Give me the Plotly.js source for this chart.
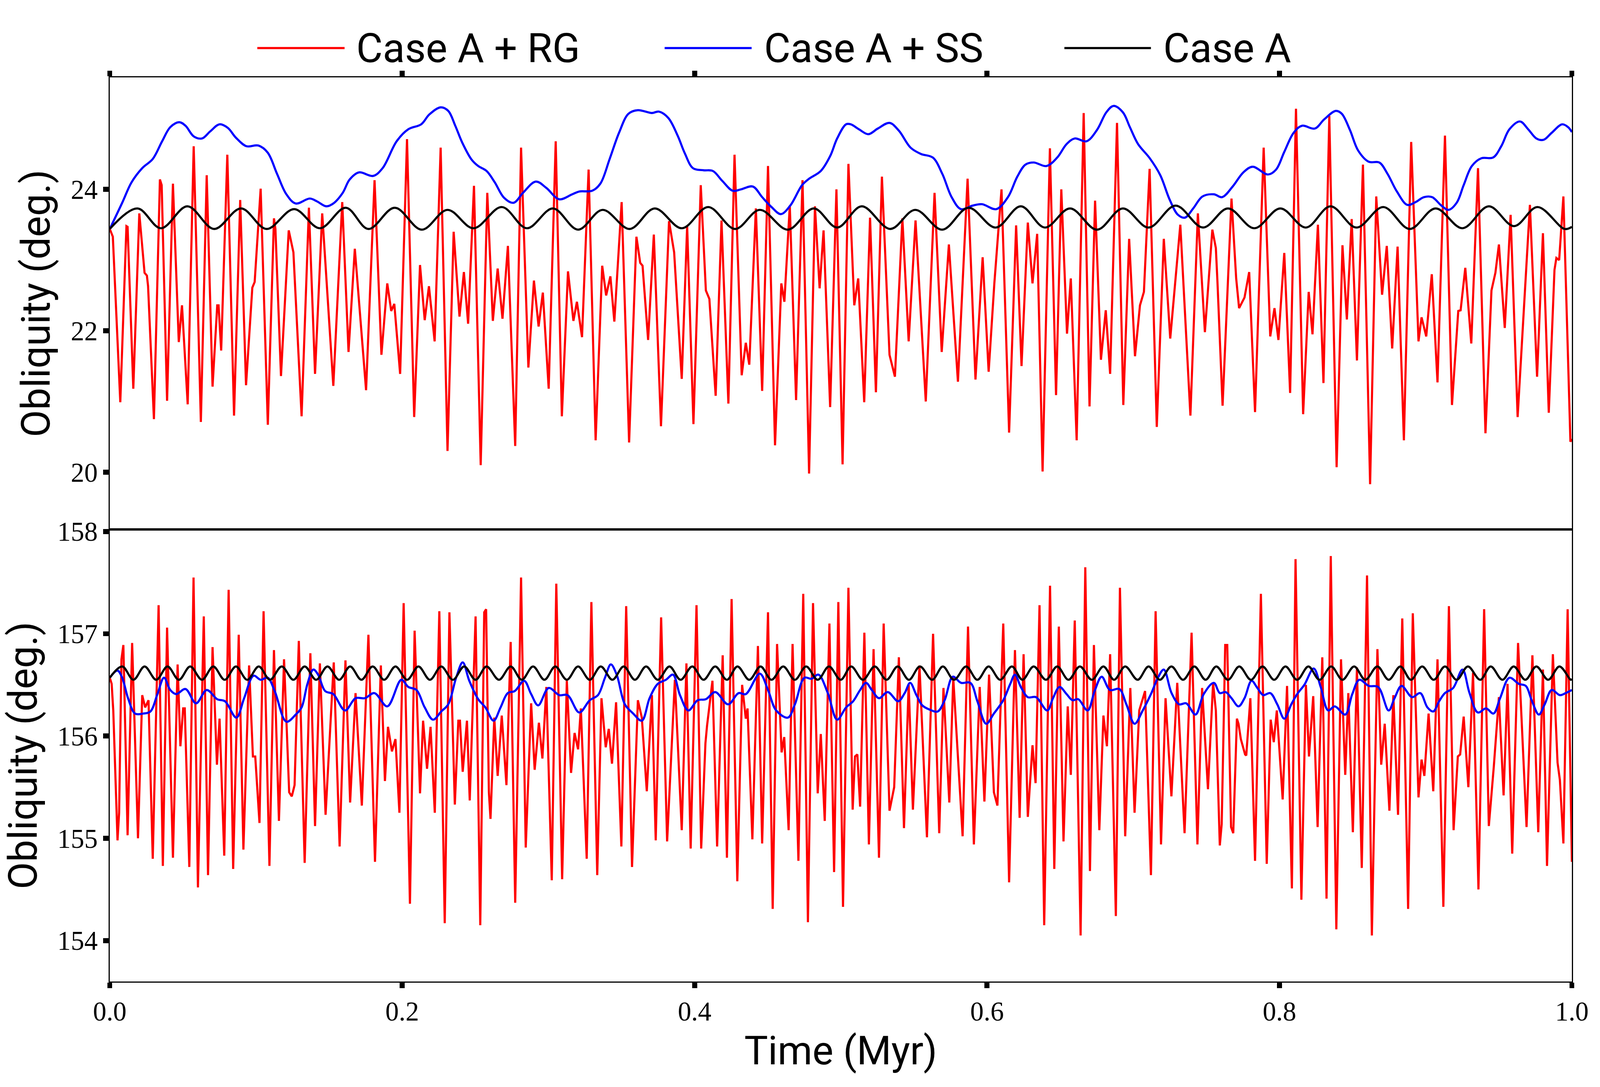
<!DOCTYPE html>
<html>
<head>
<meta charset="utf-8">
<title>Obliquity</title>
<script src="https://cdn.plot.ly/plotly-3.0.1.min.js"></script>
<style>
  html, body { margin: 0; padding: 0; background: #fff; overflow: hidden; }
</style>
</head>
<body>
<div id="chart-container"></div>
<script>
// ---- data (time in Myr, obliquity in degrees) ----

// top panel, Case A + RG
const rgTopT = [0, .0021, .0072, .0114, .0122, .0161, .0202, .0238, .0254, .0262, .0302, .0343, .0355, .0392, .0432, .0472, .0494, .0533, .0574, .0623, .0663, .0703, .0735, .0744, .0762, .0804, .0850, .0892, .0932, .0975, .0991, .1032, .1081, .1123, .1133, .1171, .1224, .1256, .1312, .1362, .1404, .1453, .1529, .1590, .1633, .1676, .1753, .1811, .1858, .1898, .1925, .1946, .1986, .2033, .2082, .2122, .2154, .2183, .2222, .2263, .2310, .2352, .2392, .2422, .2451, .2491,
  .2537, .2582, .2620, .2653, .2686, .2723, .2773, .2813, .2863, .2901, .2933, .2962, .3002, .3050, .3092, .3134, .3171, .3195, .3230, .3275, .3323, .3368, .3395, .3424, .3451, .3501, .3552, .3602, .3628, .3644, .3682, .3721, .3770, .3825, .3860, .3912, .3949, .3992, .4042, .4077, .4101, .4144, .4184, .4231, .4273, .4322, .4350, .4374, .4419, .4462, .4502, .4550, .4593, .4614, .4651, .4694, .4738, .4783, .4823, .4855, .4882, .4927, .4970, .5012,
  .5052, .5092, .5119, .5160, .5200, .5240, .5281, .5333, .5370, .5421, .5464, .5511, .5581, .5641, .5690, .5739, .5801, .5867, .5921, .5970, .6011, .6050, .6099, .6151, .6199, .6236, .6279, .6311, .6343, .6380, .6430, .6472, .6508, .6547, .6573, .6613, .6661, .6701, .6739, .6779, .6812, .6842, .6889, .6932, .6972, .7012, .7046, .7073, .7112, .7161, .7209, .7253, .7322, .7391, .7442, .7490, .7541,
  .7565, .7576, .7611, .7672, .7704, .7724, .7761, .7793, .7833, .7892, .7937, .7966, .7993, .8033, .8073, .8113, .8162, .8200, .8226, .8263, .8301, .8341, .8391, .8431, .8461, .8494, .8530, .8571, .8620, .8662, .8702, .8734, .8771, .8808, .8851, .8901, .8951, .8972, .9004, .9042, .9081, .9132, .9180, .9223, .9239, .9271, .9312, .9358, .9409, .9450, .9477, .9501, .9541, .9581, .9629, .9713, .9762, .9802, .9842, .9881, .9894, .9913, .9942, .9990, 1.0];
const rgTopY = [23.44, 23.33, 20.99, 23.48, 23.47, 21.18, 23.66, 22.82, 22.78, 22.63, 20.75, 24.14, 24.06, 21.01, 24.08, 21.84, 22.36, 20.96, 24.61, 20.71, 24.20, 21.21, 22.36, 22.36, 21.72, 24.49, 20.80, 23.85, 21.23, 22.61, 22.69, 24.01, 20.67, 23.59, 23.44, 21.36, 23.42, 23.11, 20.79, 23.74, 21.39, 23.66, 21.22, 23.82, 21.70, 23.16, 21.16, 24.13, 21.66, 22.67, 22.28, 22.38, 21.39, 24.71, 20.78, 22.93, 22.15, 22.63, 21.85, 24.59, 20.30, 23.40, 22.20, 22.83, 22.10, 24.05,
  20.10, 23.95, 22.14, 22.88, 22.17, 23.20, 20.37, 24.59, 21.48, 22.71, 22.06, 22.54, 21.18, 24.68, 20.79, 22.84, 22.14, 22.41, 21.91, 24.28, 20.45, 22.92, 22.50, 22.77, 22.13, 23.82, 20.42, 23.33, 22.96, 22.92, 21.87, 23.36, 20.65, 23.55, 23.11, 21.32, 23.48, 20.68, 24.06, 22.57, 22.45, 21.08, 23.56, 20.97, 24.49, 21.37, 21.83, 21.52, 23.73, 21.15, 24.33, 20.38, 22.67, 22.41, 23.77, 21.02, 24.13, 19.98, 23.76, 22.60, 23.42, 20.92, 24.00, 20.11,
  24.36, 22.36, 22.74, 20.99, 23.60, 21.13, 24.18, 21.66, 21.35, 23.59, 21.85, 23.56, 21.00, 23.95, 21.70, 23.22, 21.28, 24.15, 21.31, 23.04, 21.42, 22.67, 24.00, 20.56, 23.49, 21.50, 23.53, 22.67, 23.37, 20.01, 24.58, 21.09, 24.00, 21.96, 22.74, 20.45, 25.08, 20.93, 23.84, 21.59, 22.29, 21.39, 24.94, 20.95, 23.30, 21.64, 22.36, 22.55, 24.29, 20.64, 23.30, 21.89, 23.50, 20.80, 23.66, 21.98, 23.43,
  23.17, 22.69, 20.94, 23.87, 22.74, 22.32, 22.47, 22.83, 20.85, 24.59, 21.92, 22.32, 21.87, 23.10, 21.12, 25.14, 20.82, 22.55, 21.95, 23.50, 21.26, 25.04, 20.07, 23.21, 22.16, 23.58, 21.58, 24.35, 19.83, 23.90, 22.51, 23.20, 21.75, 23.19, 20.45, 24.67, 21.85, 22.19, 21.92, 22.80, 21.27, 24.76, 20.95, 22.28, 22.29, 22.89, 21.82, 24.30, 20.55, 22.57, 22.82, 23.22, 22.04, 23.64, 20.78, 23.78, 21.35, 23.38, 20.84, 22.86, 23.03, 23.00, 23.90, 20.43, 20.47];

// top panel, Case A + SS
const ssTopT = [0, .0085, .0149, .0222, .0294, .0358, .0414, .0475, .0518, .0574, .0631, .0687, .0751, .0807, .0863, .0935, .1016, .1080, .1144, .1208, .1272, .1368, .1417, .1481, .1529, .1593, .1641, .1705, .1801, .1866, .1962, .2042, .2130, .2186, .2263, .2315, .2363, .2411, .2475, .2520,
  .2577, .2633, .2697, .2762, .2826, .2914, .2986, .3074, .3163, .3211, .3299, .3355, .3419, .3483, .3548, .3612, .3708, .3756, .3820, .3884, .3933, .3989, .4061, .4125, .4189, .4261, .4317, .4398, .4462, .4526, .4590, .4654, .4735, .4783, .4863, .4927, .4975, .5036,
  .5068, .5124, .5188, .5253, .5333, .5397, .5477, .5549, .5629, .5694, .5758, .5822, .5902, .5966, .6063, .6143, .6207, .6263, .6319, .6407, .6480, .6544, .6600, .6680, .6752, .6816, .6865, .6929, .6977, .7033, .7113, .7185, .7250, .7306, .7354, .7410, .7474, .7551,
  .7608, .7680, .7753, .7817, .7921, .7977, .8033, .8097, .8154, .8242, .8306, .8386, .8426, .8482, .8538, .8611, .8683, .8739, .8803, .8875, .8931, .8988, .9044, .9108, .9156, .9212, .9260, .9316, .9381, .9461, .9517, .9573, .9645, .9701, .9757, .9806, .9862, .9934, .9974, 1.0];
const ssTopY = [23.44, 23.81, 24.10, 24.30, 24.43, 24.68, 24.88, 24.95, 24.90, 24.75, 24.72, 24.82, 24.92, 24.87, 24.73, 24.61, 24.62, 24.52, 24.22, 23.93, 23.80, 23.87, 23.83, 23.76, 23.80, 23.95, 24.14, 24.24, 24.19, 24.30, 24.68, 24.85, 24.92, 25.06, 25.16, 25.11, 24.90, 24.66, 24.42, 24.33,
  24.26, 24.10, 23.88, 23.81, 23.95, 24.11, 24.02, 23.86, 23.93, 23.97, 23.98, 24.08, 24.43, 24.80, 25.07, 25.12, 25.08, 25.10, 25.01, 24.76, 24.51, 24.30, 24.27, 24.26, 24.12, 23.98, 24.00, 24.04, 23.89, 23.75, 23.65, 23.77, 24.06, 24.15, 24.26, 24.47, 24.72, 24.92,
  24.92, 24.85, 24.78, 24.86, 24.94, 24.83, 24.59, 24.50, 24.45, 24.22, 23.89, 23.72, 23.77, 23.79, 23.72, 23.89, 24.18, 24.35, 24.38, 24.33, 24.45, 24.64, 24.72, 24.68, 24.84, 25.09, 25.18, 25.09, 24.88, 24.64, 24.44, 24.20, 23.85, 23.64, 23.60, 23.73, 23.90, 23.93,
  23.89, 24.04, 24.24, 24.32, 24.21, 24.28, 24.53, 24.80, 24.90, 24.86, 24.99, 25.11, 25.07, 24.84, 24.55, 24.39, 24.38, 24.22, 23.97, 23.78, 23.82, 23.89, 23.89, 23.77, 23.71, 23.81, 24.06, 24.33, 24.44, 24.45, 24.61, 24.85, 24.96, 24.85, 24.72, 24.70, 24.80, 24.92, 24.88, 24.81];

// top panel, Case A (extrema of the slow oscillation)
const aTopT = [0, .0189, .0350, .0531, .0714, .0898, .1072, .1261, .1437, .1614, .1769, .1949, .2134, .2310, .2488, .2681, .2853, .3031, .3203, .3371, .3556, .3727, .3913, .4093, .4277, .4446, .4638, .4815, .4975, .5143, .5338, .5509, .5694, .5873, .6059, .6231, .6396, .6568, .6752, .6929, .7105, .7290, .7477, .7648, .7828, .8006, .8181, .8349, .8527, .8710, .8891, .9068, .9252, .9432, .9605, .9765, .9950, 1.0];
const aTopY = [23.44, 23.73, 23.45, 23.76, 23.44, 23.73, 23.44, 23.72, 23.45, 23.74, 23.44, 23.74, 23.43, 23.71, 23.45, 23.75, 23.45, 23.73, 23.43, 23.71, 23.44, 23.73, 23.45, 23.75, 23.44, 23.71, 23.43, 23.73, 23.46, 23.76, 23.44, 23.71, 23.43, 23.74, 23.46, 23.76, 23.46, 23.73, 23.43, 23.73, 23.46, 23.77, 23.46, 23.73, 23.45, 23.73, 23.46, 23.76, 23.46, 23.75, 23.44, 23.73, 23.45, 23.76, 23.48, 23.75, 23.44, 23.47];

// bottom panel, Case A + RG
const rgBotT = [0, .0013, .0024, .0053, .0064, .0080, .0093, .0122, .0153, .0193, .0222, .0242, .0265, .0294, .0334, .0363, .0392, .0432, .0464, .0483, .0502, .0513, .0544, .0573, .0603, .0643, .0672, .0703, .0733, .0751, .0783, .0813, .0844, .0882, .0914, .0953, .0979, .0995, .1024, .1052, .1092, .1123, .1157, .1192, .1227, .1245, .1264, .1293, .1333, .1372, .1404, .1437, .1476, .1532, .1572, .1612, .1644, .1681, .1724, .1769, .1814, .1854, .1882, .1903, .1930, .1954, .1981, .2010, .2053, .2085, .2122, .2143, .2170, .2194, .2223, .2254, .2291, .2323, .2360, .2384, .2395, .2414, .2443, .2462, .2502,
  .2534, .2561, .2574, .2593, .2604, .2630, .2653, .2681, .2713, .2742, .2773, .2813, .2845, .2882, .2906, .2935, .2959, .2986, .3023, .3054, .3094, .3126, .3155, .3179, .3203, .3222, .3262, .3294, .3334, .3363, .3392, .3413, .3435, .3463, .3499, .3532, .3572, .3612, .3639, .3673, .3708, .3734, .3771, .3812, .3865, .3912, .3944, .3973, .4013, .4045, .4074, .4085, .4122, .4154, .4192, .4221, .4253, .4292, .4325, .4350, .4362, .4395, .4433, .4462, .4502, .4534, .4564, .4595, .4613, .4643, .4670, .4710, .4743, .4775, .4810, .4842, .4863, .4890, .4922, .4954, .4983, .5015,
  .5052, .5081, .5097, .5113, .5132, .5161, .5192, .5224, .5261, .5293, .5333, .5365, .5397, .5432, .5464, .5493, .5538, .5589, .5631, .5673, .5702, .5742, .5769, .5833, .5870, .5910, .5950, .5982, .6014, .6047, .6071, .6111, .6151, .6191, .6223, .6250, .6279, .6311, .6332, .6359, .6391, .6431, .6460, .6491, .6523, .6552, .6573, .6600, .6640, .6672, .6704, .6731, .6768, .6796, .6820, .6842, .6881, .6909, .6945, .6980, .7009, .7041, .7081, .7121, .7153, .7190, .7221, .7261, .7301, .7351, .7399, .7439, .7471, .7511, .7546,
  .7565, .7592, .7605, .7629, .7643, .7669, .7684, .7709, .7720, .7736, .7765, .7773, .7801, .7833, .7873, .7913, .7940, .7961, .7982, .8022, .8052, .8085, .8110, .8150, .8181, .8202, .8231, .8261, .8293, .8322, .8351, .8389, .8421, .8450, .8471, .8502, .8530, .8563, .8599, .8632, .8670, .8696, .8720, .8752, .8779, .8811, .8840, .8880, .8912, .8951, .8972, .8991, .9020, .9052, .9081, .9121, .9159, .9191, .9220, .9236, .9260, .9292, .9324, .9361, .9400, .9432, .9466, .9501, .9533, .9560, .9592, .9632, .9690, .9730, .9770, .9802, .9830, .9870, .9902, .9918, .9942, .9971, 1.0];
const rgBotY = [156.57, 156.51, 156.25, 154.98, 155.25, 156.75, 156.89, 155.03, 156.91, 155.00, 156.40, 156.28, 156.35, 154.80, 157.28, 154.73, 157.06, 154.81, 156.70, 155.90, 156.27, 156.27, 154.72, 157.55, 154.52, 157.17, 154.64, 156.87, 155.72, 156.17, 154.83, 157.43, 154.70, 156.99, 154.89, 156.69, 155.80, 155.80, 155.15, 157.22, 154.73, 156.84, 155.17, 156.75, 155.45, 155.41, 155.52, 156.93, 154.76, 156.81, 155.12, 156.71, 155.23, 156.72, 154.92, 156.74, 155.35, 156.42, 155.32, 156.99, 154.77, 156.69, 155.56, 156.09, 155.85, 155.97, 155.25, 157.30, 154.36, 157.03, 155.44, 156.15, 155.68, 156.09, 155.25, 157.22, 154.17, 157.21, 155.33, 156.15, 156.15, 155.65, 156.15, 155.37, 157.17,
  154.15, 157.21, 157.24, 155.45, 155.19, 156.18, 155.61, 156.20, 155.52, 156.92, 154.37, 157.55, 154.91, 156.32, 155.67, 156.13, 155.78, 156.48, 154.59, 157.49, 154.60, 156.54, 155.64, 156.03, 155.87, 156.27, 154.80, 157.31, 154.64, 156.37, 155.89, 156.07, 155.73, 156.33, 154.92, 157.27, 154.72, 156.35, 156.18, 155.46, 156.40, 154.98, 157.16, 154.97, 156.55, 155.08, 156.71, 154.90, 157.28, 154.90, 155.93, 156.10, 156.54, 154.92, 156.79, 154.81, 157.34, 154.58, 156.50, 156.17, 156.27, 154.99, 156.88, 154.95, 157.21, 154.31, 156.90, 155.84, 155.99, 155.08, 156.90, 154.78, 157.39, 154.18, 157.30, 155.44, 156.02, 155.17, 157.10, 154.67, 157.31, 154.33,
  157.45, 155.28, 155.80, 155.82, 155.31, 157.01, 154.94, 156.85, 154.81, 157.10, 155.27, 155.50, 156.77, 155.10, 156.51, 155.28, 156.69, 155.01, 157.00, 155.05, 156.47, 155.35, 156.57, 155.02, 157.07, 154.94, 156.48, 155.36, 156.60, 155.45, 155.32, 157.10, 154.57, 156.84, 155.20, 156.80, 155.21, 155.91, 155.54, 157.28, 154.15, 157.47, 154.70, 157.07, 154.97, 156.29, 155.62, 157.13, 154.05, 157.65, 154.68, 156.89, 155.08, 156.20, 155.90, 156.80, 154.24, 157.45, 155.02, 156.47, 155.25, 156.25, 156.44, 154.64, 157.22, 154.94, 156.37, 155.41, 156.52, 155.05, 157.01, 154.94, 156.47, 155.48, 156.52,
  156.25, 154.93, 155.14, 156.89, 156.89, 155.11, 155.05, 156.17, 156.12, 155.97, 155.82, 155.81, 156.37, 154.78, 157.39, 154.75, 156.16, 155.94, 156.25, 155.38, 156.49, 154.51, 157.73, 154.40, 156.50, 155.80, 156.39, 155.11, 156.77, 154.41, 157.76, 154.11, 156.75, 155.62, 156.42, 155.06, 156.67, 154.71, 157.57, 154.05, 156.85, 155.72, 156.12, 155.27, 156.40, 155.23, 157.15, 154.31, 157.20, 155.40, 155.77, 155.61, 156.22, 155.46, 156.75, 154.33, 157.27, 155.08, 155.80, 155.82, 156.19, 155.50, 156.62, 154.50, 157.24, 155.12, 155.70, 156.38, 155.42, 156.51, 154.85, 156.91, 155.11, 156.79, 155.06, 156.65, 154.73, 156.80, 155.74, 155.57, 154.95, 157.24, 154.77];

// bottom panel, Case A + SS
const ssBotT = [0, .0053, .0085, .0125, .0173, .0230, .0278, .0326, .0371, .0414, .0454, .0518, .0590, .0663, .0735, .0788, .0866, .0919, .0983, .1032, .1080, .1128, .1208, .1272, .1312, .1352, .1392, .1425, .1473, .1529, .1609, .1681, .1745, .1810, .1898, .1994, .2042, .2098, .2154, .2211, .2267, .2315, .2371, .2414, .2459, .2520,
  .2569, .2625, .2673, .2722, .2770, .2834, .2882, .2930, .3002, .3074, .3131, .3211, .3283, .3339, .3387, .3427, .3467, .3523, .3580, .3639, .3692, .3748, .3804, .3852, .3900, .3957, .4021, .4077, .4141, .4229, .4301, .4350, .4446, .4502, .4558, .4638, .4686, .4751, .4799, .4847, .4911, .4975, .5036,
  .5084, .5132, .5172, .5212, .5261, .5321, .5392, .5437, .5474, .5517, .5557, .5605, .5662, .5710, .5766, .5822, .5886, .5934, .5994, .6047, .6111, .6159, .6191, .6231, .6279, .6335, .6412, .6451, .6496, .6544, .6584, .6624, .6688, .6736, .6784, .6841, .6905, .6953, .7009, .7065, .7121, .7169, .7209, .7262, .7314, .7362, .7426, .7482, .7551,
  .7592, .7632, .7672, .7720, .7761, .7809, .7849, .7889, .7937, .7985, .8033, .8081, .8121, .8170, .8234, .8282, .8333, .8378, .8450, .8498, .8546, .8611, .8675, .8747, .8787, .8835, .8907, .8963, .9012, .9052, .9092, .9132, .9188, .9252, .9300, .9357, .9413, .9464, .9509, .9573, .9637, .9685, .9725, .9774, .9814, .9862, .9918, .9958, 1.0];
const ssBotY = [156.57, 156.64, 156.57, 156.37, 156.22, 156.22, 156.24, 156.41, 156.57, 156.45, 156.41, 156.46, 156.32, 156.45, 156.36, 156.34, 156.18, 156.37, 156.59, 156.55, 156.57, 156.44, 156.14, 156.21, 156.28, 156.51, 156.65, 156.60, 156.44, 156.41, 156.25, 156.37, 156.37, 156.42, 156.29, 156.55, 156.48, 156.45, 156.28, 156.16, 156.24, 156.31, 156.58, 156.72, 156.54, 156.36,
  156.28, 156.15, 156.28, 156.42, 156.44, 156.54, 156.41, 156.30, 156.47, 156.40, 156.40, 156.23, 156.35, 156.40, 156.57, 156.70, 156.60, 156.31, 156.22, 156.15, 156.37, 156.51, 156.55, 156.60, 156.40, 156.25, 156.35, 156.36, 156.43, 156.31, 156.42, 156.41, 156.61, 156.45, 156.25, 156.18, 156.31, 156.57, 156.56, 156.60, 156.42, 156.16, 156.28,
  156.34, 156.45, 156.52, 156.45, 156.37, 156.43, 156.34, 156.42, 156.52, 156.40, 156.30, 156.26, 156.24, 156.35, 156.58, 156.52, 156.52, 156.34, 156.12, 156.22, 156.35, 156.51, 156.60, 156.48, 156.38, 156.38, 156.25, 156.37, 156.48, 156.41, 156.35, 156.36, 156.25, 156.44, 156.58, 156.45, 156.46, 156.31, 156.12, 156.25, 156.41, 156.57, 156.65, 156.42, 156.31, 156.32, 156.21, 156.41, 156.52,
  156.42, 156.43, 156.37, 156.29, 156.37, 156.54, 156.47, 156.40, 156.42, 156.31, 156.17, 156.31, 156.41, 156.50, 156.66, 156.48, 156.25, 156.29, 156.21, 156.41, 156.55, 156.49, 156.48, 156.25, 156.37, 156.49, 156.38, 156.42, 156.28, 156.24, 156.34, 156.42, 156.47, 156.65, 156.42, 156.23, 156.27, 156.22, 156.37, 156.57, 156.51, 156.49, 156.35, 156.21, 156.31, 156.45, 156.40, 156.42, 156.45];

// bottom panel, Case A (extrema of the fast oscillation)
const aBotT = [0, .0085, .0162, .0238, .0318, .0395, .0473, .0550, .0631, .0708, .0786, .0863, .0940, .1019, .1096, .1176, .1256, .1333, .1412, .1489, .1569, .1644, .1721, .1798, .1877, .1954, .2034, .2111, .2190, .2267, .2347, .2424, .2502,
  .2577, .2662, .2742, .2818, .2895, .2973, .3047, .3126, .3203, .3283, .3358, .3438, .3515, .3592, .3668, .3748, .3828, .3904, .3984, .4061, .4141, .4221, .4293, .4374, .4451, .4526, .4606, .4686, .4763, .4842, .4919, .4999,
  .5071, .5151, .5232, .5313, .5389, .5466, .5541, .5625, .5698, .5774, .5857, .5934, .6011, .6090, .6170, .6242, .6319, .6403, .6480, .6557, .6635, .6717, .6796, .6869, .6945, .7030, .7105, .7182, .7261, .7341, .7418, .7495,
  .7568, .7648, .7725, .7805, .7884, .7964, .8041, .8121, .8198, .8274, .8354, .8431, .8511, .8587, .8670, .8747, .8827, .8899, .8976, .9055, .9132, .9212, .9289, .9373, .9445, .9525, .9602, .9682, .9757, .9838, .9915, .9993, 1.0];
const aBotY = [156.57,
  156.68, 156.55, 156.68, 156.55, 156.68, 156.55, 156.68, 156.55, 156.68, 156.55, 156.68, 156.55, 156.68, 156.55, 156.68, 156.55, 156.68, 156.55, 156.68, 156.55, 156.68, 156.55, 156.68, 156.55, 156.68, 156.55, 156.68, 156.55, 156.68, 156.55, 156.68, 156.55,
  156.68, 156.55, 156.68, 156.55, 156.68, 156.55, 156.68, 156.55, 156.68, 156.55, 156.68, 156.55, 156.68, 156.55, 156.68, 156.55, 156.68, 156.55, 156.68, 156.55, 156.68, 156.55, 156.68, 156.55, 156.68, 156.55, 156.68, 156.55, 156.68, 156.55, 156.68, 156.55,
  156.68, 156.55, 156.68, 156.55, 156.68, 156.55, 156.68, 156.55, 156.68, 156.55, 156.68, 156.55, 156.68, 156.55, 156.68, 156.55, 156.68, 156.55, 156.68, 156.55, 156.68, 156.55, 156.68, 156.55, 156.68, 156.55, 156.68, 156.55, 156.68, 156.55, 156.68, 156.55,
  156.68, 156.55, 156.68, 156.55, 156.68, 156.55, 156.68, 156.55, 156.68, 156.55, 156.68, 156.55, 156.68, 156.55, 156.68, 156.55, 156.68, 156.55, 156.68, 156.55, 156.68, 156.55, 156.68, 156.55, 156.68, 156.55, 156.68, 156.55, 156.68, 156.55, 156.68, 156.55,
  156.56];

// axis ticks
const timeTicks = [0, 0.2, 0.4, 0.6, 0.8, 1.0];
const timeTickText = ['0.0', '0.2', '0.4', '0.6', '0.8', '1.0'];
const topTicks = [20, 22, 24];
const botTicks = [154, 155, 156, 157, 158];

const seriesNames = ['Case A + RG', 'Case A + SS', 'Case A'];
const seriesColors = ['#ff0000', '#0000ff', '#000000'];

// ---- chart ----
const SANS = 'Roboto, "Liberation Sans", sans-serif';
const SERIF = '"Liberation Serif", "DejaVu Serif", serif';

// sizes below are in pixels of the 4524x2782 original; the page fills the real viewport,
// so horizontal sizes scale with SX and vertical ones with SY
const BASE_W = 4524;
const BASE_H = 2782;
const viewW = window.innerWidth || document.documentElement.clientWidth || BASE_W;
const viewH = window.innerHeight || document.documentElement.clientHeight || BASE_H;
const SX = viewW / BASE_W;
const SY = viewH / BASE_H;
const SF = Math.min(SX, SY);          // fonts and strokes
const fx = (v) => v * SX;
const fy = (v) => v * SY;
const fs = (v) => v * SF;

function makeLine(x, y, idx, xa, ya, shape) {
  return {
    x, y,
    xaxis: xa,
    yaxis: ya,
    type: 'scatter',
    mode: 'lines',
    name: seriesNames[idx],
    showlegend: false,
    hoverinfo: 'skip',
    line: { color: seriesColors[idx], width: fs(6), shape: shape || 'linear', smoothing: 1 }
  };
}

function createTraces() {
  return [
    makeLine(rgTopT, rgTopY, 0, 'x2', 'y'),
    makeLine(ssTopT, ssTopY, 1, 'x2', 'y', 'spline'),
    makeLine(aTopT, aTopY, 2, 'x2', 'y', 'spline'),
    makeLine(rgBotT, rgBotY, 0, 'x', 'y2'),
    makeLine(ssBotT, ssBotY, 1, 'x', 'y2', 'spline'),
    makeLine(aBotT, aBotY, 2, 'x', 'y2', 'spline')
  ];
}

function axisCommon() {
  return {
    showgrid: false,
    zeroline: false,
    showline: true,
    linecolor: '#000',
    linewidth: fs(3),
    mirror: true,
    ticks: 'outside',
    ticklen: fs(16),
    tickwidth: fs(14),
    tickcolor: '#000',
    tickfont: { family: SERIF, size: fs(76), color: '#000' }
  };
}

function titleOf(text, standoff) {
  return { text, font: { family: SANS, size: fs(112), color: '#000' }, standoff: fs(standoff) };
}

function createLegend() {
  // legend drawn by hand so the sample lines can be long like the original
  const items = [
    { x0: 0.1009, x1: 0.1606, tx: 0.1681 },
    { x0: 0.3795, x1: 0.4390, tx: 0.4470 },
    { x0: 0.6529, x1: 0.7121, tx: 0.7200 }
  ];
  const ly = 1.0324;
  const shapes = items.map((it, i) => ({
    type: 'line', xref: 'paper', yref: 'paper',
    x0: it.x0, x1: it.x1, y0: ly, y1: ly,
    line: { color: seriesColors[i], width: fs(6) }
  }));
  const annotations = items.map((it, i) => ({
    xref: 'paper', yref: 'paper', x: it.tx, y: ly,
    xanchor: 'left', yanchor: 'middle', showarrow: false,
    text: seriesNames[i],
    font: { family: SANS, size: fs(115), color: '#000' }
  }));
  return { shapes, annotations };
}

function createLayout() {
  const legend = createLegend();
  return {
    width: viewW,
    height: viewH,
    margin: { l: fx(310), r: fx(80), t: fy(198), b: fy(270), pad: 0 },
    paper_bgcolor: '#fff',
    plot_bgcolor: '#fff',
    showlegend: false,
    xaxis: Object.assign(axisCommon(), {
      domain: [0, 1], anchor: 'y2', range: [0, 1],
      tickvals: timeTicks, ticktext: timeTickText,
      title: titleOf('Time (Myr)', 30)
    }),
    xaxis2: Object.assign(axisCommon(), {
      domain: [0, 1], anchor: 'y', matches: 'x', range: [0, 1], side: 'top',
      tickvals: timeTicks, showticklabels: false
    }),
    yaxis: Object.assign(axisCommon(), {
      domain: [0.5, 1], anchor: 'x2', range: [19.19, 25.584],
      tickvals: topTicks,
      title: titleOf('Obliquity (deg.)', 22)
    }),
    yaxis2: Object.assign(axisCommon(), {
      domain: [0, 0.5], anchor: 'x', range: [153.60, 158.02],
      tickvals: botTicks,
      title: titleOf('Obliquity (deg.)', 22)
    }),
    shapes: legend.shapes,
    annotations: legend.annotations
  };
}

Plotly.newPlot('chart-container', createTraces(), createLayout(), {
  displayModeBar: false,
  staticPlot: true
});
</script>
</body>
</html>
